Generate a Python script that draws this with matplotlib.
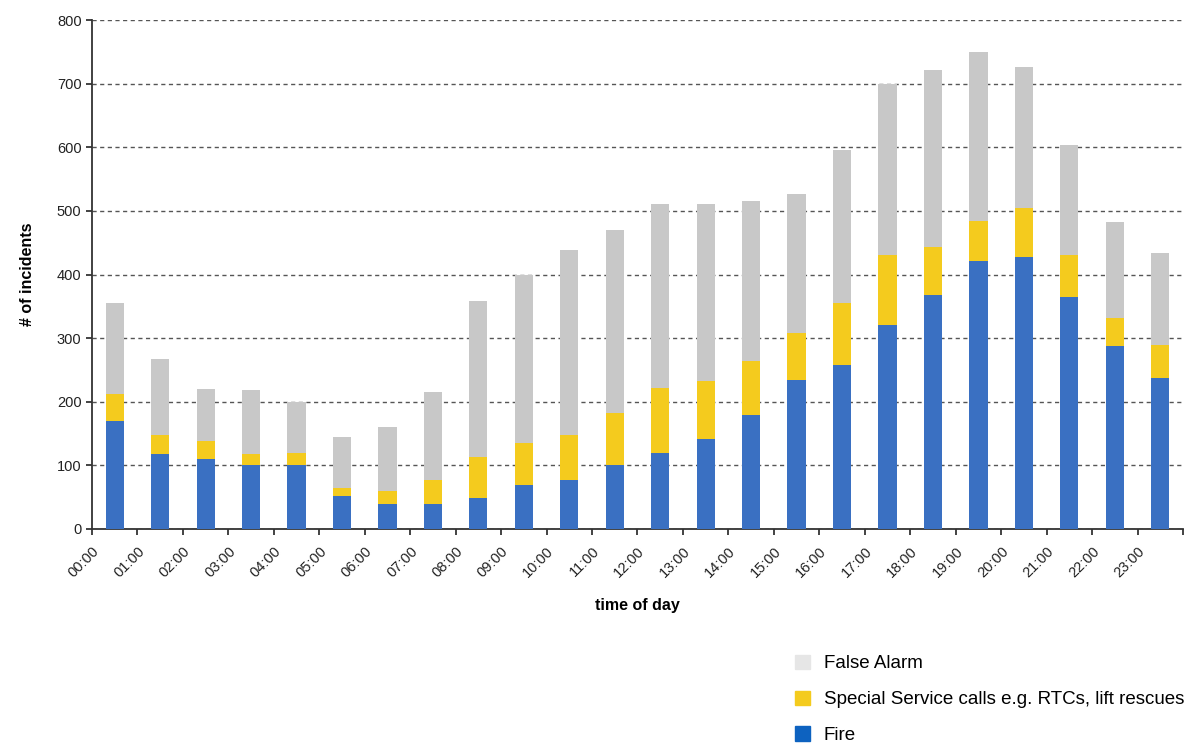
import matplotlib.pyplot as plt
from matplotlib.patches import Patch

plt.rcParams['font.family'] = ['Liberation Sans', 'DejaVu Sans']

# hour labels (ticks sit at the start of each hour slot)
hours = ['%02d:00' % h for h in range(24)]

# incident counts per hour
fire = [170, 118, 110, 100, 100, 52, 40, 40, 48, 69, 77, 100,
        120, 141, 179, 234, 258, 321, 368, 421, 427, 365, 287, 237]
special = [42, 30, 28, 18, 20, 12, 20, 37, 65, 66, 71, 83,
           101, 91, 85, 74, 97, 109, 76, 63, 77, 66, 44, 52]
false_alarm = [143, 120, 82, 100, 80, 81, 100, 139, 245, 265, 290, 287,
               290, 279, 252, 218, 240, 270, 278, 266, 223, 173, 152, 145]

c_fire = '#3a70c2'
c_special = '#f4cb1e'
c_false = '#c8c8c8'

fig = plt.figure(figsize=(11.93, 7.44), dpi=100)
ax = fig.add_axes([0.0771, 0.289, 0.9145, 0.684])

x = [i + 0.5 for i in range(len(hours))]
bottom2 = [f + s for f, s in zip(fire, special)]
ax.bar(x, fire, width=0.4, color=c_fire, zorder=3)
ax.bar(x, special, width=0.4, bottom=fire, color=c_special, zorder=3)
ax.bar(x, false_alarm, width=0.4, bottom=bottom2, color=c_false, zorder=3)

ax.set_xlim(0, 24)
ax.set_ylim(0, 800)
ax.set_yticks(range(0, 801, 100))
ax.set_xticks(range(25))
ax.set_xticklabels(hours + [''], rotation=45, ha='right', rotation_mode='anchor')
ax.tick_params(axis='both', labelsize=10.5, colors='#222222', length=4, width=1.2)
ax.tick_params(axis='x', pad=7)

ax.grid(axis='y', linestyle=(0, (3, 2.5)), color='#555555', linewidth=1.0, zorder=1)
for s in ['top', 'right']:
    ax.spines[s].set_visible(False)
for s in ['left', 'bottom']:
    ax.spines[s].set_linewidth(1.3)
    ax.spines[s].set_color('#333333')

ax.set_xlabel('time of day', fontsize=11.5, fontweight='bold', labelpad=13)
ax.set_ylabel('# of incidents', fontsize=11.5, fontweight='bold', labelpad=16)

handles = [Patch(color='#e6e6e6', label='False Alarm'),
           Patch(color='#f4cb1e', label='Special Service calls e.g. RTCs, lift rescues'),
           Patch(color='#0d62c0', label='Fire')]
fig.legend(handles=handles, loc='upper left', bbox_to_anchor=(0.666, 0.120),
           frameon=False, fontsize=13.5, handlelength=0.8, handleheight=0.8,
           handletextpad=0.75, labelspacing=0.97, borderpad=0, borderaxespad=0)

plt.savefig('out.png', dpi=100)
